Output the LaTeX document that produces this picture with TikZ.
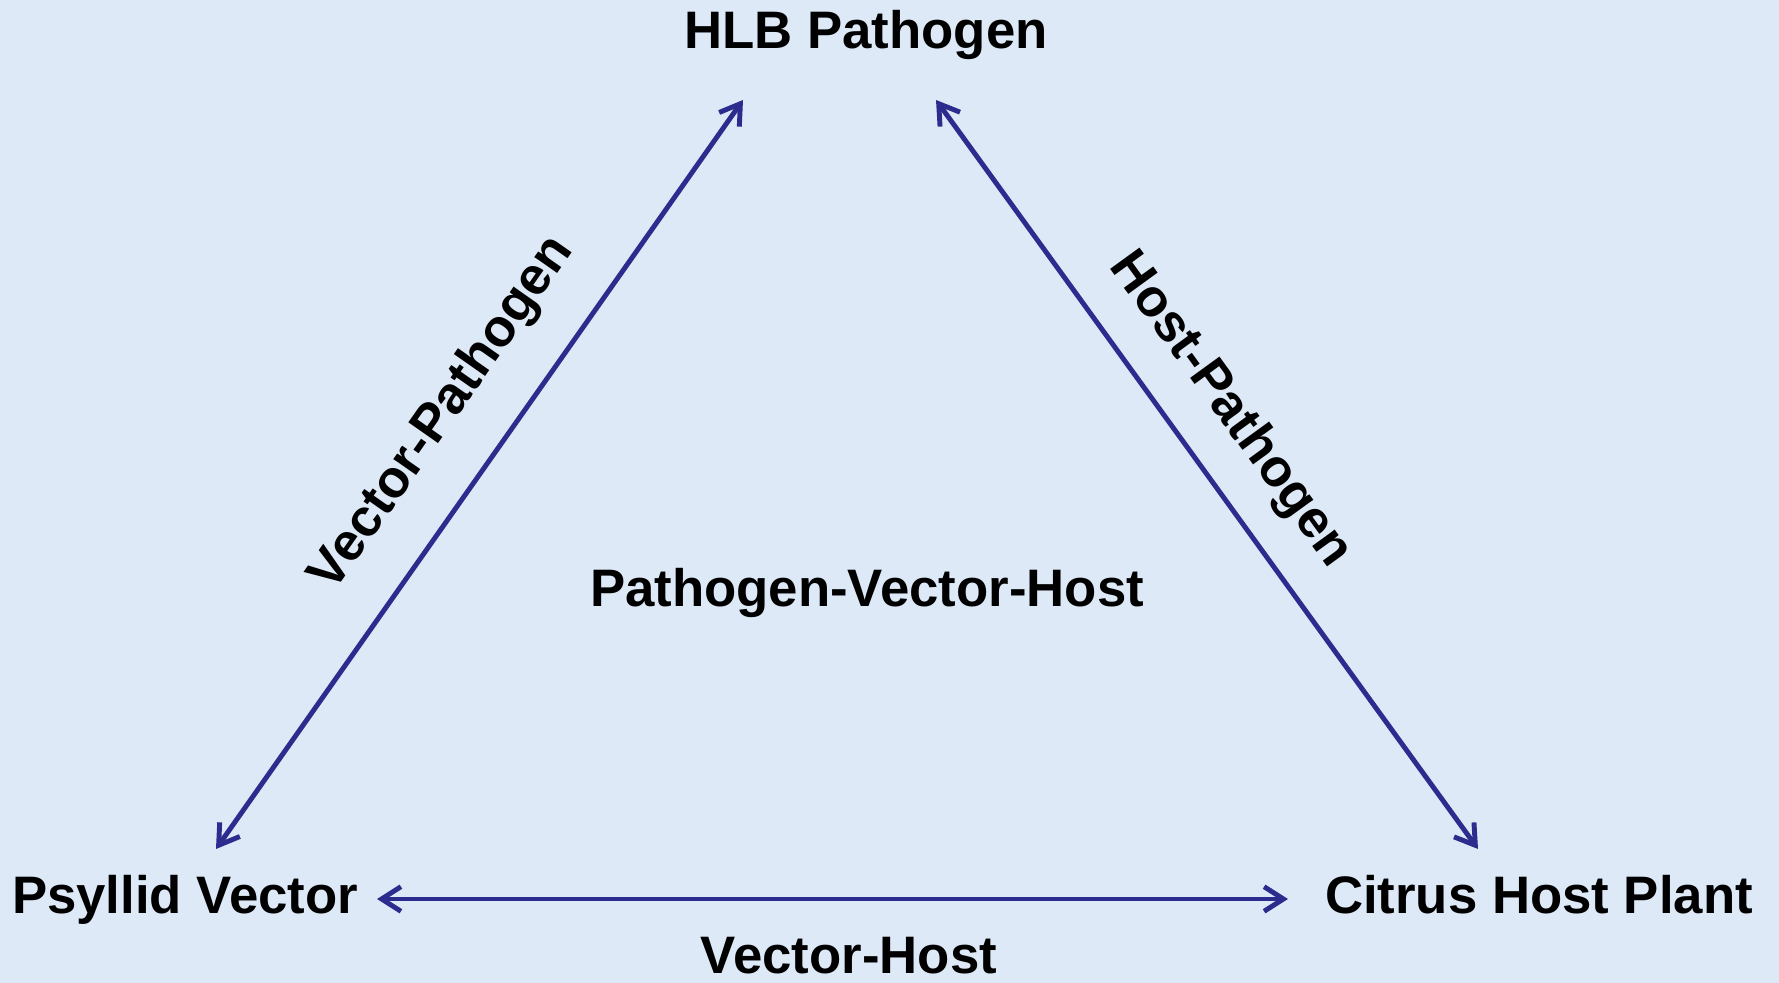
\documentclass[tikz,border=0pt]{standalone}
\usepackage{fontspec}
\setmainfont{Liberation Sans}
\usetikzlibrary{arrows.meta,positioning}
\definecolor{bgblue}{RGB}{221,233,246}
\definecolor{arrblue}{RGB}{44,44,142}

\begin{document}
\begin{tikzpicture}[x=0.01cm,y=0.01cm,>={Straight Barb[length=5.5pt,width=7pt]}]
	\tikzset{lbl/.style={font=\fontsize{15}{18}\selectfont\bfseries,inner sep=2pt},
		link/.style={draw=arrblue,line width=1.4pt,<->}}
	\fill[bgblue] (0,0) rectangle (1779,-983);

	%% corners of the triangle
	\node[lbl,anchor=base] (hlb) at (866,-49) {HLB Pathogen};
	\node[lbl,anchor=base] (psy) at (185,-913) {Psyllid Vector};
	\node[lbl,anchor=base] (cit) at (1539,-913) {Citrus Host Plant};
	\node[lbl,anchor=base] (pvh) at (867,-607) {Pathogen-Vector-Host};

	%% arrow ends
	\coordinate (hlb-l) at (743,-100);
	\coordinate (hlb-r) at (936,-100);
	\coordinate (psy-t) at (216,-849);
	\coordinate (cit-t) at (1478,-849);
	\coordinate (psy-r) at (377,-899);
	\coordinate (cit-l) at (1288,-899);

	\draw[link] (psy-t) -- (hlb-l);
	\draw[link] (hlb-r) -- (cit-t);
	\draw[link] (psy-r) -- (cit-l);

	%% side labels
	\node[lbl,rotate=55] (vp) at (443,-414) {Vector-Pathogen};
	\node[lbl,rotate=-54] (hp) at (1230,-410) {Host-Pathogen};
	\node[lbl,anchor=base] (vh) at (849,-973) {Vector-Host};
\end{tikzpicture}
\end{document}
